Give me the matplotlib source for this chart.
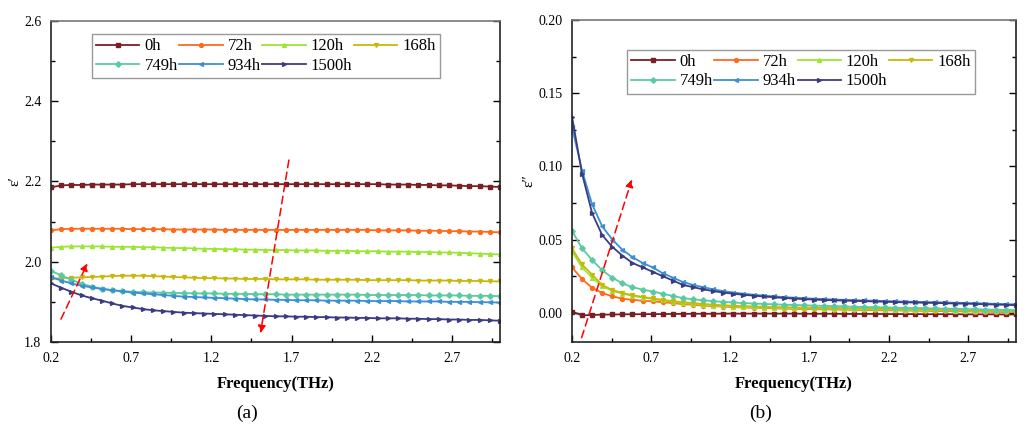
import numpy as np
import matplotlib
matplotlib.use('Agg')
import matplotlib.pyplot as plt
from matplotlib.ticker import FormatStrFormatter

plt.rcParams['font.family'] = ['Liberation Serif', 'DejaVu Serif']

# frequency grid (THz)
freq = np.linspace(0.2, 3.0, 45)

labels = ['0h', '72h', '120h', '168h', '749h', '934h', '1500h']
colors = ['#7a1f24', '#ff6a1c', '#9be534', '#c9b80a', '#5ccaa0', '#3a90d2', '#3b3b82']
markers = ['s', 'o', '^', 'v', 'D', '<', '>']

xticks = [0.2, 0.7, 1.2, 1.7, 2.2, 2.7]
xminor = [0.45, 0.95, 1.45, 1.95, 2.45, 2.95]

# real part eps'
eps1_0h = [2.185, 2.190, 2.191, 2.191, 2.192, 2.192, 2.192, 2.192, 2.193, 2.193, 2.193, 2.193, 2.193, 2.193, 2.193,
           2.193, 2.193, 2.193, 2.193, 2.193, 2.193, 2.193, 2.193, 2.193, 2.193, 2.193, 2.193, 2.193, 2.193, 2.193,
           2.193, 2.193, 2.193, 2.192, 2.192, 2.192, 2.191, 2.191, 2.190, 2.190, 2.189, 2.188, 2.188, 2.187, 2.186]
eps1_72h = [2.078, 2.081, 2.082, 2.082, 2.082, 2.082, 2.082, 2.082, 2.081, 2.081, 2.081, 2.081, 2.080, 2.080, 2.080,
            2.080, 2.080, 2.079, 2.079, 2.079, 2.079, 2.079, 2.079, 2.079, 2.079, 2.079, 2.079, 2.079, 2.079, 2.079,
            2.079, 2.079, 2.078, 2.078, 2.078, 2.078, 2.077, 2.077, 2.077, 2.076, 2.076, 2.075, 2.075, 2.074, 2.073]
eps1_120h = [2.035, 2.037, 2.038, 2.038, 2.038, 2.038, 2.037, 2.037, 2.037, 2.036, 2.036, 2.035, 2.034, 2.034, 2.033,
             2.032, 2.032, 2.031, 2.031, 2.030, 2.030, 2.029, 2.029, 2.029, 2.028, 2.028, 2.028, 2.027, 2.027, 2.027,
             2.026, 2.026, 2.026, 2.025, 2.025, 2.025, 2.024, 2.024, 2.023, 2.023, 2.022, 2.021, 2.020, 2.019, 2.018]
eps1_168h = [1.957, 1.959, 1.960, 1.961, 1.962, 1.963, 1.964, 1.965, 1.965, 1.965, 1.964, 1.963, 1.962, 1.961, 1.960,
             1.959, 1.959, 1.958, 1.958, 1.957, 1.957, 1.957, 1.956, 1.956, 1.956, 1.956, 1.955, 1.955, 1.955, 1.955,
             1.955, 1.954, 1.954, 1.954, 1.954, 1.954, 1.953, 1.953, 1.953, 1.953, 1.952, 1.952, 1.952, 1.951, 1.951]
eps1_749h = [1.977, 1.966, 1.955, 1.945, 1.938, 1.933, 1.929, 1.927, 1.925, 1.924, 1.923, 1.923, 1.922, 1.922, 1.921,
             1.921, 1.921, 1.920, 1.920, 1.920, 1.919, 1.919, 1.919, 1.918, 1.918, 1.918, 1.918, 1.918, 1.918, 1.918,
             1.918, 1.917, 1.917, 1.917, 1.917, 1.917, 1.917, 1.916, 1.916, 1.916, 1.916, 1.915, 1.915, 1.915, 1.914]
eps1_934h = [1.962, 1.953, 1.946, 1.940, 1.936, 1.932, 1.929, 1.926, 1.923, 1.921, 1.919, 1.917, 1.915, 1.913, 1.912,
             1.911, 1.910, 1.909, 1.908, 1.907, 1.906, 1.906, 1.905, 1.905, 1.904, 1.904, 1.904, 1.903, 1.903, 1.903,
             1.903, 1.902, 1.902, 1.902, 1.902, 1.901, 1.901, 1.901, 1.901, 1.900, 1.900, 1.900, 1.899, 1.899, 1.898]
eps1_1500h = [1.946, 1.935, 1.925, 1.916, 1.909, 1.903, 1.896, 1.890, 1.886, 1.882, 1.879, 1.877, 1.875, 1.873, 1.872,
              1.871, 1.870, 1.869, 1.868, 1.867, 1.866, 1.865, 1.864, 1.864, 1.863, 1.863, 1.862, 1.862, 1.861, 1.861,
              1.860, 1.860, 1.859, 1.859, 1.859, 1.858, 1.858, 1.857, 1.857, 1.856, 1.856, 1.855, 1.855, 1.854, 1.853]

# imaginary part eps''
eps2_0h = [0.0008, -0.0018, -0.0015, -0.0013, -0.0012, -0.0011, -0.0010, -0.0010, -0.0009, -0.0009, -0.0008,
           -0.0008, -0.0007, -0.0007, -0.0007, -0.0006, -0.0006, -0.0006, -0.0006, -0.0006, -0.0006, -0.0006,
           -0.0006, -0.0007, -0.0007, -0.0007, -0.0007, -0.0008, -0.0008, -0.0008, -0.0008, -0.0009, -0.0009,
           -0.0009, -0.0009, -0.0010, -0.0010, -0.0010, -0.0010, -0.0011, -0.0011, -0.0011, -0.0011, -0.0012, -0.0012]
eps2_72h = [0.031, 0.023, 0.017, 0.0135, 0.0112, 0.0096, 0.0088, 0.0082, 0.0078, 0.0072, 0.0066, 0.0059, 0.0054,
            0.0049, 0.0045, 0.0042, 0.0039, 0.0036, 0.0034, 0.0032, 0.0030, 0.0028, 0.0027, 0.0025, 0.0024, 0.0023,
            0.0022, 0.0021, 0.0020, 0.0019, 0.0018, 0.0017, 0.0016, 0.0015, 0.0014, 0.0013, 0.0012, 0.0011, 0.0010,
            0.0009, 0.0008, 0.0007, 0.0006, 0.0005, 0.0005]
eps2_120h = [0.042, 0.031, 0.024, 0.018, 0.0150, 0.0130, 0.0116, 0.0104, 0.0094, 0.0084, 0.0075, 0.0066, 0.0060,
             0.0054, 0.0049, 0.0045, 0.0042, 0.0039, 0.0037, 0.0035, 0.0034, 0.0032, 0.0031, 0.0030, 0.0029, 0.0028,
             0.0027, 0.0026, 0.0025, 0.0024, 0.0023, 0.0022, 0.0021, 0.0020, 0.0019, 0.0018, 0.0017, 0.0016, 0.0015,
             0.0014, 0.0013, 0.0012, 0.0011, 0.0010, 0.0010]
eps2_168h = [0.044, 0.033, 0.026, 0.019, 0.0155, 0.0135, 0.0120, 0.0108, 0.0098, 0.0088, 0.0080, 0.0072, 0.0066,
             0.0060, 0.0055, 0.0051, 0.0048, 0.0045, 0.0043, 0.0041, 0.0039, 0.0038, 0.0036, 0.0035, 0.0034, 0.0033,
             0.0032, 0.0031, 0.0030, 0.0029, 0.0028, 0.0027, 0.0026, 0.0025, 0.0024, 0.0023, 0.0022, 0.0021, 0.0019,
             0.0017, 0.0015, 0.0013, 0.0011, 0.0009, 0.0008]
eps2_749h = [0.056, 0.044, 0.036, 0.029, 0.024, 0.020, 0.0175, 0.0158, 0.0145, 0.013, 0.0115, 0.0100, 0.0092,
             0.0085, 0.0079, 0.0074, 0.0070, 0.0066, 0.0063, 0.0060, 0.0058, 0.0055, 0.0053, 0.0051, 0.0049, 0.0047,
             0.0045, 0.0043, 0.0041, 0.0039, 0.0038, 0.0036, 0.0035, 0.0033, 0.0032, 0.0031, 0.0029, 0.0028, 0.0027,
             0.0025, 0.0024, 0.0022, 0.0021, 0.0019, 0.0018]
eps2_934h = [0.127, 0.097, 0.074, 0.059, 0.050, 0.043, 0.038, 0.034, 0.031, 0.027, 0.024, 0.021, 0.0190, 0.0175,
             0.0160, 0.0148, 0.0138, 0.0130, 0.0123, 0.0117, 0.0112, 0.0107, 0.0103, 0.0099, 0.0096, 0.0093, 0.0090,
             0.0088, 0.0086, 0.0084, 0.0082, 0.0080, 0.0078, 0.0076, 0.0075, 0.0073, 0.0072, 0.0070, 0.0068, 0.0067,
             0.0065, 0.0063, 0.0061, 0.0059, 0.0057]
eps2_1500h = [0.134, 0.095, 0.068, 0.053, 0.045, 0.039, 0.034, 0.031, 0.028, 0.025, 0.022, 0.019, 0.0175, 0.0160,
              0.0148, 0.0138, 0.0130, 0.0123, 0.0117, 0.0111, 0.0106, 0.0101, 0.0097, 0.0093, 0.0090, 0.0087, 0.0085,
              0.0083, 0.0081, 0.0079, 0.0077, 0.0075, 0.0073, 0.0071, 0.0070, 0.0068, 0.0067, 0.0065, 0.0063, 0.0062,
              0.0060, 0.0058, 0.0056, 0.0054, 0.0052]

eps1 = [eps1_0h, eps1_72h, eps1_120h, eps1_168h, eps1_749h, eps1_934h, eps1_1500h]
eps2 = [eps2_0h, eps2_72h, eps2_120h, eps2_168h, eps2_749h, eps2_934h, eps2_1500h]


def style_axes(ax):
    ax.set_xlim(0.2, 3.0)
    ax.set_xticks(xticks)
    ax.set_xticks(xminor, minor=True)
    ax.xaxis.set_major_formatter(FormatStrFormatter('%.1f'))
    ax.tick_params(which='both', direction='in', top=False, right=True, labelsize=10)
    ax.tick_params(which='major', length=5, width=1)
    ax.tick_params(which='minor', length=3, width=1)
    ax.tick_params(axis='x', pad=7)
    ax.tick_params(axis='y', pad=7)
    for s in ax.spines.values():
        s.set_linewidth(1.2)
        s.set_color('#222222')
    ax.spines['top'].set_color('#777777')
    ax.set_xlabel('Frequency(THz)', fontsize=12, fontweight='bold', labelpad=8)


def draw(ax, data):
    lines = []
    for y, c, m, lab in zip(data, colors, markers, labels):
        ln, = ax.plot(freq, y, color=c, marker=m, markersize=2.8, lw=1.3, label=lab)
        lines.append(ln)
    order = [0, 4, 1, 5, 2, 6, 3]
    return [lines[i] for i in order], [labels[i] for i in order]


def arrow(ax, x0, y0, x1, y1):
    ax.annotate('', xy=(x1, y1), xytext=(x0, y0),
                arrowprops=dict(arrowstyle='-|>', color='red', lw=1.1, ls=(0, (5, 3)),
                                mutation_scale=11, shrinkA=0, shrinkB=0))


leg_kw = dict(ncol=4, loc='upper left', fontsize=12, handlelength=2.6, handletextpad=0.3,
              columnspacing=0.1, labelspacing=0.2, borderpad=0.25, borderaxespad=0,
              numpoints=1, fancybox=False, edgecolor='#999999', framealpha=1)

fig = plt.figure(figsize=(10.33, 4.42), dpi=100)
ax1 = fig.add_axes([0.0494, 0.2262, 0.4347, 0.7270])
ax2 = fig.add_axes([0.5537, 0.2262, 0.4296, 0.7286])

h, l = draw(ax1, eps1)
style_axes(ax1)
ax1.set_ylim(1.8, 2.6)
ax1.set_yticks([1.8, 2.0, 2.2, 2.4, 2.6])
ax1.set_yticks([1.9, 2.1, 2.3, 2.5], minor=True)
ax1.yaxis.set_major_formatter(FormatStrFormatter('%.1f'))
ax1.set_ylabel('ε\u2032', fontsize=11, labelpad=2)
ax1.legend(h, l, bbox_to_anchor=(0.091, 0.958), **leg_kw)
arrow(ax1, 0.262, 1.857, 0.427, 1.996)
arrow(ax1, 1.683, 2.253, 1.506, 1.822)

h, l = draw(ax2, eps2)
style_axes(ax2)
ax2.set_ylim(-0.02, 0.20)
ax2.set_yticks([0.0, 0.05, 0.10, 0.15, 0.20])
ax2.set_yticks([0.025, 0.075, 0.125, 0.175], minor=True)
ax2.yaxis.set_major_formatter(FormatStrFormatter('%.2f'))
ax2.set_ylabel('ε\u2033', fontsize=11, labelpad=2)
ax2.legend(h, l, bbox_to_anchor=(0.124, 0.907), **leg_kw)
arrow(ax2, 0.261, -0.017, 0.578, 0.091)

fig.text(0.239, 0.055, '(a)', fontsize=14, ha='center')
fig.text(0.736, 0.055, '(b)', fontsize=14, ha='center')

fig.savefig('out.png', dpi=100)
